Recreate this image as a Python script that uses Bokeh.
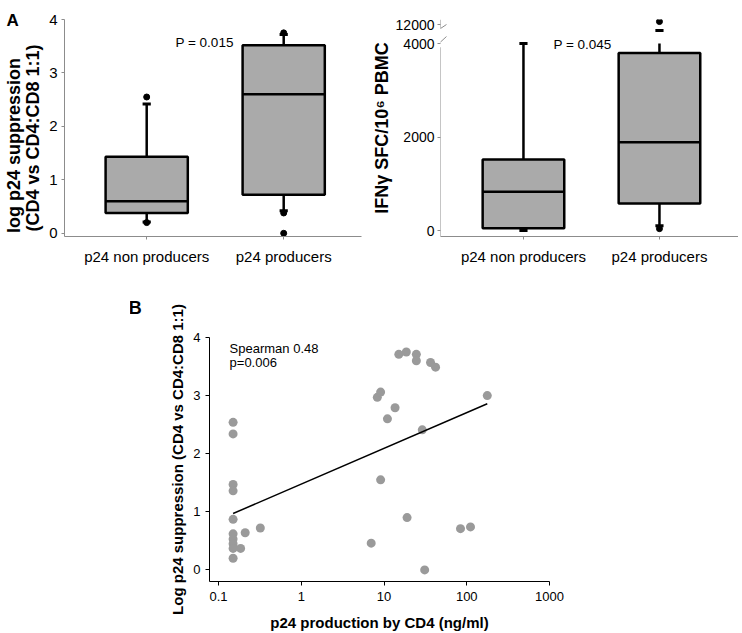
import numpy as np
from bokeh.plotting import figure
from bokeh.models import Range1d, FixedTicker, Label, Arrow, Spacer, LinearAxis
from bokeh.layouts import column, row
from bokeh.embed import file_html
from bokeh.resources import INLINE

FONT = "Liberation Sans"
BOX_FILL = "#aaaaaa"
DOT_FILL = "#9a9a9a"
AXIS_GRAY = "#8c8c8c"
NBSP = "\u00a0"

# ---------------- data ----------------
categories = ["p24 non producers", "p24 producers"]

# Panel A (left): log p24 suppression box plots
supp_lo = [0.21, 0.42]
supp_q1 = [0.38, 0.72]
supp_med = [0.60, 2.60]
supp_q3 = [1.43, 3.52]
supp_hi = [2.42, 3.72]
supp_out = [[2.55, 0.20], [3.75, 0.38, 0.00]]
supp_ticks = [0, 1, 2, 3, 4]

# Panel A (right): IFNg SFC/10^6 PBMC box plots (broken axis 4000 -> 12000)
ifn_lo = [0, 100]
ifn_q1 = [50, 580]
ifn_med = [830, 1890]
ifn_q3 = [1520, 3800]
ifn_hi = [4000, 9600]
ifn_out = [[], [40, 13400]]
ifn_ticks = [0, 2000, 4000, 12000]

# Panel B: scatter
p24_prod = [0.15, 0.15, 0.15, 0.15, 0.15, 0.15, 0.15, 0.15, 0.15, 0.15,
            0.185, 0.21, 0.32, 7.0, 8.3, 9.1, 9.1, 11, 13.6, 15.1,
            18.6, 19, 24.6, 24.6, 29, 31, 36.5, 42, 84, 111, 177]
log_supp = [2.54, 2.34, 1.47, 1.36, 0.87, 0.62, 0.53, 0.45, 0.37, 0.20,
            0.37, 0.64, 0.72, 0.46, 2.97, 3.06, 1.55, 2.60, 2.79, 3.71,
            3.75, 0.90, 3.71, 3.60, 2.41, 0.00, 3.57, 3.49, 0.71, 0.74, 3.00]
fit_x = [0.15, 177]
fit_y = [0.97, 2.86]
b_xticks = [0.1, 1, 10, 100, 1000]
b_yticks = [0, 1, 2, 3, 4]

BREAK_LO, BREAK_HI, BREAK_SCALE = 4000, 12000, 0.05


def brk(v):
    v = np.asarray(v, dtype=float)
    return np.where(v <= BREAK_LO, v, BREAK_LO + (v - BREAK_LO) * BREAK_SCALE)


def ident(v):
    return np.asarray(v, dtype=float)


def new_fig(**kw):
    return figure(toolbar_location=None, output_backend="svg", title=None,
                  background_fill_color="white", border_fill_color="white", **kw)


def style_axes(p, color, tick_font, label_font, tick_out=3):
    for ax in (p.xaxis[0], p.yaxis[0]):
        ax.axis_line_color = color
        ax.axis_line_width = 1
        ax.major_tick_line_color = color
        ax.minor_tick_line_color = None
        ax.major_tick_in = 0
        ax.major_tick_out = tick_out
        ax.major_label_text_font = FONT
        ax.major_label_text_font_size = tick_font
        ax.major_label_text_color = "black"
        ax.axis_label_text_font = FONT
        ax.axis_label_text_font_size = label_font
        ax.axis_label_text_font_style = "bold"
        ax.axis_label_text_color = "black"
    p.xgrid.visible = False
    p.ygrid.visible = False
    p.outline_line_color = None


def text_label(text, x, y, size, bold=False, baseline="middle"):
    return Label(x=x, y=y, text=text, text_font=FONT, text_font_size=size,
                 text_font_style="bold" if bold else "normal",
                 text_color="black", text_baseline=baseline)


def draw_boxes(p, lo, q1, med, q3, hi, outs, tf=ident, cut=None):
    pos = np.arange(1, len(categories) + 1, dtype=float)
    hw, cw = 0.3, 0.03
    hi = np.asarray(hi, dtype=float)
    hi_line = np.minimum(hi, cut) if cut is not None else hi
    p.segment(pos, tf(lo), pos, tf(q1), line_color="black", line_width=2.5)
    p.segment(pos, tf(q3), pos, tf(hi_line), line_color="black", line_width=2.5)
    p.vbar(x=pos, width=2 * hw, bottom=tf(q1), top=tf(q3), fill_color=BOX_FILL,
           line_color="black", line_width=2.5)
    p.segment(pos - hw, tf(med), pos + hw, tf(med), line_color="black", line_width=2.5)
    p.segment(pos - cw, tf(lo), pos + cw, tf(lo), line_color="black", line_width=3)
    p.segment(pos - cw, tf(hi), pos + cw, tf(hi), line_color="black", line_width=3)
    ox = [pos[i] for i, o in enumerate(outs) for _ in o]
    oy = [v for o in outs for v in o]
    if ox:
        p.scatter(ox, tf(oy), size=6, color="black")


cat_overrides = {int(i + 1): c for i, c in enumerate(categories)}

# ---------------- Panel A left ----------------
X0L = 0.40
p1 = new_fig(frame_width=297, frame_height=217,
             x_range=Range1d(X0L, X0L + 297 / 137), y_range=Range1d(-0.06, 4.0),
             min_border_left=63, min_border_right=7, min_border_top=19, min_border_bottom=44)
style_axes(p1, AXIS_GRAY, "15px", "18px")
p1.xaxis.ticker = FixedTicker(ticks=list(cat_overrides.keys()))
p1.xaxis.major_label_overrides = cat_overrides
p1.xaxis.major_label_standoff = 8
p1.yaxis.ticker = FixedTicker(ticks=supp_ticks)
p1.yaxis.major_label_standoff = 4
p1.yaxis.axis_label = "(CD4 vs CD4:CD8 1:1)" + NBSP * 4
p1.yaxis.axis_label_standoff = 3
outer = LinearAxis(axis_label="log p24 suppression" + NBSP * 7, ticker=FixedTicker(ticks=[]),
                   axis_line_color=None, major_tick_line_color=None,
                   minor_tick_line_color=None, major_tick_out=0, major_tick_in=0,
                   major_label_standoff=0, axis_label_standoff=-3,
                   axis_label_text_font=FONT, axis_label_text_font_size="18px",
                   axis_label_text_font_style="bold", axis_label_text_color="black")
p1.add_layout(outer, "left")
draw_boxes(p1, supp_lo, supp_q1, supp_med, supp_q3, supp_hi, supp_out)
p1.add_layout(text_label("P = 0.015", 1.21, 3.57, "13.5px"))
p1.add_layout(text_label("A", X0L - 58 / 137, 3.98, "17px", bold=True,
                         baseline="alphabetic"), "above")

# ---------------- Panel A right ----------------
X0R = 0.39
p2 = new_fig(frame_width=298, frame_height=217,
             x_range=Range1d(X0R, X0R + 298 / 136), y_range=Range1d(-128, 4514),
             min_border_left=70, min_border_right=0, min_border_top=19, min_border_bottom=44)
style_axes(p2, AXIS_GRAY, "14px", "18px")
p2.xaxis.major_label_text_font_size = "15px"
p2.xaxis.ticker = FixedTicker(ticks=list(cat_overrides.keys()))
p2.xaxis.major_label_overrides = cat_overrides
p2.xaxis.major_label_standoff = 8
tick_disp = [float(t) for t in brk(ifn_ticks)]
p2.yaxis.ticker = FixedTicker(ticks=tick_disp)
p2.yaxis.major_label_overrides = {int(d): str(t) for d, t in zip(tick_disp, ifn_ticks)}
p2.yaxis.major_label_standoff = 3
p2.yaxis.axis_label = "IFNγ SFC/10⁶ PBMC"
p2.yaxis.axis_label_standoff = 1
p2.yaxis.axis_line_color = None
draw_boxes(p2, ifn_lo, ifn_q1, ifn_med, ifn_q3, ifn_hi, ifn_out, tf=brk, cut=BREAK_LO)
# broken y axis line + break marks
for (ya, yb) in [(-128, 3920), (4330, 4514)]:
    p2.add_layout(Arrow(x_start=X0R, y_start=ya, x_end=X0R, y_end=yb, end=None,
                        line_color=AXIS_GRAY, line_width=1), "left")
for (xa, ya, xb, yb) in [(X0R - 0.044, 3914, X0R + 0.044, 4150),
                         (X0R - 0.022, 4278, X0R + 0.044, 4407)]:
    p2.add_layout(Arrow(x_start=xa, y_start=ya, x_end=xb, y_end=yb, end=None,
                        line_color=AXIS_GRAY, line_width=1), "left")
p2.add_layout(text_label("P = 0.045", 1.22, 3980, "13.5px"))

# ---------------- Panel B ----------------
p3 = new_fig(x_axis_type="log", frame_width=340, frame_height=244,
             x_range=Range1d(0.0778, 1000), y_range=Range1d(-0.2, 4.0),
             min_border_left=79, min_border_right=20, min_border_top=57, min_border_bottom=50)
style_axes(p3, "black", "13px", "15px", tick_out=4)
p3.xaxis.ticker = FixedTicker(ticks=b_xticks)
p3.xaxis.major_label_overrides = {t: ("%g" % t) for t in b_xticks}
p3.xaxis.major_label_standoff = 6
p3.xaxis.axis_label = "p24 production by CD4 (ng/ml)"
p3.xaxis.axis_label_standoff = 10
p3.yaxis.ticker = FixedTicker(ticks=b_yticks)
p3.yaxis.major_label_standoff = 5
p3.yaxis.axis_label = "Log p24 suppression (CD4 vs CD4:CD8 1:1)"
p3.yaxis.axis_label_standoff = 4
p3.scatter(p24_prod, log_supp, size=9, fill_color=DOT_FILL, line_color=None)
p3.line(fit_x, fit_y, line_color="black", line_width=1.5)
p3.add_layout(text_label("Spearman 0.48", 0.136, 3.81, "13px"))
p3.add_layout(text_label("p=0.006", 0.136, 3.57, "13px"))
p3.add_layout(text_label("B", 0.0082, 4.50, "18px", bold=True, baseline="alphabetic"), "left")

layout = column(row(p1, p2), row(Spacer(width=130, height=351), p3))

open("out.html", "w").write(file_html(layout, INLINE))
